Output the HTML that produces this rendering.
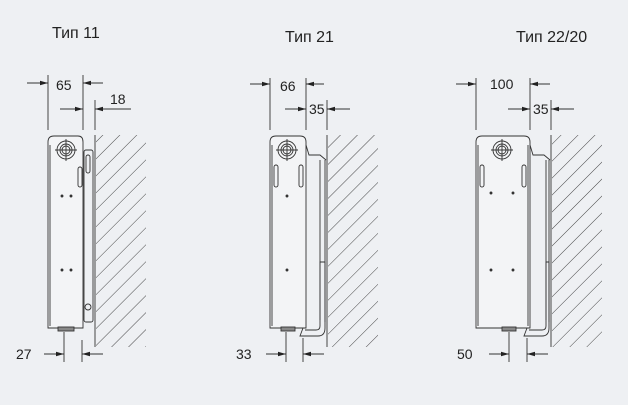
<!DOCTYPE html>
<html><head><meta charset="utf-8"><style>
html,body{margin:0;padding:0;background:#eef0f3;}
svg{display:block}
text{font-family:"Liberation Sans",sans-serif;fill:#222;}
</style></head><body>
<svg width="628" height="405" viewBox="0 0 628 405" xmlns="http://www.w3.org/2000/svg">
<defs>
<marker id="ar" markerWidth="8" markerHeight="6" refX="8" refY="3" orient="auto" markerUnits="userSpaceOnUse">
<path d="M0,0.8 L8,3 L0,5.2 z" fill="#222"/></marker>
<pattern id="hat" patternUnits="userSpaceOnUse" width="12" height="12" patternTransform="rotate(45)">
<line x1="0" y1="0" x2="0" y2="12" stroke="#333" stroke-width="0.9"/></pattern>
<clipPath id="c1"><rect x="96" y="135" width="52" height="212"/></clipPath>
</defs>
<g stroke="#333" fill="none" stroke-width="0.9">
<!-- ===== Type 11 ===== -->
<text x="52" y="38" font-size="16" stroke="none">Тип 11</text>
<line x1="48" y1="75" x2="48" y2="130"/><line x1="83" y1="75" x2="83" y2="130"/>
<line x1="27" y1="83" x2="48" y2="83" marker-end="url(#ar)"/><line x1="103" y1="83" x2="83" y2="83" marker-end="url(#ar)"/>
<text x="56" y="90" font-size="14" stroke="none">65</text>
<line x1="95" y1="100" x2="95" y2="130"/>
<line x1="60" y1="109" x2="83" y2="109" marker-end="url(#ar)"/><line x1="131" y1="109" x2="95" y2="109" marker-end="url(#ar)"/>
<text x="110" y="104" font-size="14" stroke="none">18</text>
<rect x="96" y="135" width="50" height="212" fill="url(#hat)" stroke="none" clip-path="url(#c1)"/>
<line x1="95" y1="135" x2="95" y2="347"/>
<path d="M48,328 V142 Q48,136 54,136 H78 Q83,136 83,142 V328 Z" fill="#f3f4f6"/>
<line x1="50" y1="145" x2="50" y2="326"/>
<circle cx="66" cy="150" r="9"/><circle cx="66" cy="150" r="6"/><circle cx="66" cy="150" r="4"/>
<line x1="55" y1="150" x2="77" y2="150"/><line x1="66" y1="139" x2="66" y2="161"/>
<rect x="78" y="167" width="4" height="20" rx="2"/>
<rect x="84" y="150" width="9" height="172" rx="2"/>
<rect x="86" y="155" width="4" height="18" rx="2"/>
<circle cx="88" cy="307" r="3"/>
<rect x="58" y="327" width="16" height="4" fill="#888"/>
<circle cx="62" cy="196" r="1" fill="#333"/><circle cx="71" cy="196" r="1" fill="#333"/>
<circle cx="62" cy="270" r="1" fill="#333"/><circle cx="71" cy="270" r="1" fill="#333"/>
<text x="16" y="359" font-size="14" stroke="none">27</text>
<line x1="64" y1="332" x2="64" y2="362"/><line x1="82" y1="340" x2="82" y2="362"/>
<line x1="44" y1="354" x2="64" y2="354" marker-end="url(#ar)"/><line x1="103" y1="354" x2="82" y2="354" marker-end="url(#ar)"/>

<!-- ===== Type 21 ===== -->
<text x="285" y="42" font-size="16" stroke="none">Тип 21</text>
<line x1="270" y1="78" x2="270" y2="130"/><line x1="306" y1="78" x2="306" y2="130"/>
<line x1="250" y1="84" x2="270" y2="84" marker-end="url(#ar)"/><line x1="324" y1="84" x2="306" y2="84" marker-end="url(#ar)"/>
<text x="280" y="91" font-size="14" stroke="none">66</text>
<line x1="327" y1="100" x2="327" y2="130"/>
<line x1="285" y1="109" x2="306" y2="109" marker-end="url(#ar)"/><line x1="350" y1="109" x2="327" y2="109" marker-end="url(#ar)"/>
<text x="309" y="114" font-size="14" stroke="none">35</text>
<clipPath id="c2"><rect x="328" y="135" width="50" height="212"/></clipPath>
<rect x="328" y="135" width="50" height="212" fill="url(#hat)" stroke="none" clip-path="url(#c2)"/>
<line x1="327" y1="135" x2="327" y2="347"/><line x1="325" y1="160" x2="325" y2="322"/>
<path d="M270,328 V142 Q270,136 276,136 H300 Q306,136 306,142 V328 Z" fill="#f3f4f6"/>
<line x1="272" y1="145" x2="272" y2="326"/>
<path d="M306,145 L309,155 H320 L326,160"/>
<line x1="320" y1="160" x2="320" y2="320"/>
<circle cx="287" cy="150" r="9"/><circle cx="287" cy="150" r="6"/><circle cx="287" cy="150" r="4"/>
<line x1="276" y1="150" x2="298" y2="150"/><line x1="287" y1="139" x2="287" y2="161"/>
<rect x="274" y="165" width="4" height="22" rx="2"/><rect x="299" y="165" width="4" height="22" rx="2"/>
<circle cx="287" cy="196" r="1" fill="#333"/><circle cx="287" cy="270" r="1" fill="#333"/>
<path d="M303,328 L300,336 H318 Q325,336 325,328 V262 H320 V326 Q320,330 316,330 H305"/>
<rect x="281" y="327" width="14" height="4" fill="#888"/>
<text x="236" y="359" font-size="14" stroke="none">33</text>
<line x1="286" y1="332" x2="286" y2="362"/><line x1="303" y1="338" x2="303" y2="362"/>
<line x1="266" y1="354" x2="286" y2="354" marker-end="url(#ar)"/><line x1="324" y1="354" x2="303" y2="354" marker-end="url(#ar)"/>

<!-- ===== Type 22/20 ===== -->
<text x="516" y="42" font-size="16" stroke="none">Тип 22/20</text>
<line x1="476" y1="78" x2="476" y2="130"/><line x1="530" y1="78" x2="530" y2="130"/>
<line x1="456" y1="84" x2="476" y2="84" marker-end="url(#ar)"/><line x1="550" y1="84" x2="530" y2="84" marker-end="url(#ar)"/>
<text x="490" y="89" font-size="14" stroke="none">100</text>
<line x1="551" y1="100" x2="551" y2="130"/>
<line x1="508" y1="109" x2="530" y2="109" marker-end="url(#ar)"/><line x1="574" y1="109" x2="551" y2="109" marker-end="url(#ar)"/>
<text x="533" y="114" font-size="14" stroke="none">35</text>
<clipPath id="c3"><rect x="552" y="135" width="50" height="212"/></clipPath>
<rect x="552" y="135" width="50" height="212" fill="url(#hat)" stroke="none" clip-path="url(#c3)"/>
<line x1="551" y1="135" x2="551" y2="347"/><line x1="549" y1="160" x2="549" y2="322"/>
<path d="M476,328 V142 Q476,136 482,136 H524 Q530,136 530,142 V328 Z" fill="#f3f4f6"/>
<line x1="478" y1="145" x2="478" y2="326"/><line x1="528" y1="145" x2="528" y2="326"/>
<path d="M530,145 L533,155 H544 L550,160"/>
<line x1="546" y1="160" x2="546" y2="320"/>
<circle cx="502" cy="150" r="9"/><circle cx="502" cy="150" r="6"/><circle cx="502" cy="150" r="4"/>
<line x1="491" y1="150" x2="513" y2="150"/><line x1="502" y1="139" x2="502" y2="161"/>
<rect x="480" y="165" width="4" height="22" rx="2"/><rect x="522" y="165" width="4" height="22" rx="2"/>
<circle cx="491" cy="193" r="1" fill="#333"/><circle cx="513" cy="193" r="1" fill="#333"/>
<circle cx="491" cy="270" r="1" fill="#333"/><circle cx="513" cy="270" r="1" fill="#333"/>
<path d="M527,328 L524,336 H542 Q549,336 549,328 V262 H546 V326 Q546,330 542,330 H529"/>
<rect x="502" y="327" width="14" height="4" fill="#888"/>
<text x="457" y="359" font-size="14" stroke="none">50</text>
<line x1="509" y1="332" x2="509" y2="362"/><line x1="527" y1="338" x2="527" y2="362"/>
<line x1="489" y1="354" x2="509" y2="354" marker-end="url(#ar)"/><line x1="548" y1="354" x2="527" y2="354" marker-end="url(#ar)"/>
</g>
</svg>
</body></html>
